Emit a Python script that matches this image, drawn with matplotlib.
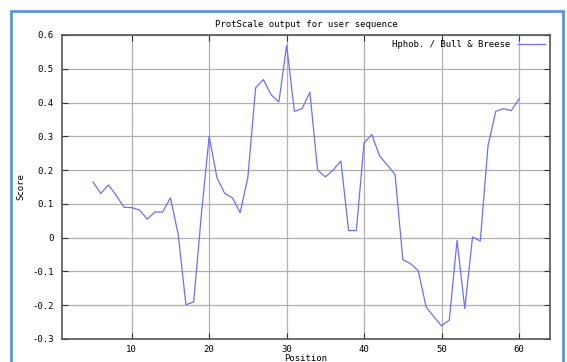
import numpy as np
import matplotlib.pyplot as plt
from matplotlib.patches import Rectangle

position = list(range(5, 61))
score = [0.165, 0.131, 0.156, 0.125, 0.090, 0.089, 0.082, 0.055, 0.076, 0.076,
         0.118, 0.010, -0.199, -0.190, 0.070, 0.300, 0.178, 0.131, 0.118, 0.074,
         0.180, 0.444, 0.468, 0.423, 0.402, 0.569, 0.374, 0.382, 0.431, 0.200,
         0.180, 0.200, 0.227, 0.021, 0.021, 0.281, 0.305, 0.242, 0.215, 0.187,
         -0.065, -0.077, -0.098, -0.205, -0.234, -0.261, -0.244, -0.008, -0.210, 0.002,
         -0.010, 0.273, 0.374, 0.382, 0.376, 0.411]

xticks = [10, 20, 30, 40, 50, 60]
yticks = np.round(np.arange(-0.3, 0.61, 0.1), 1)

mono = 'DejaVu Sans Mono'
fs = 6.5

fig = plt.figure(figsize=(5.67, 3.62), dpi=100)
fig.patches.append(Rectangle((11 / 567, -0.05), 552 / 567, 1.05 - 11 / 362,
                             transform=fig.transFigure, fill=False,
                             edgecolor='#5b95d8', linewidth=2))
ax = fig.add_axes([62 / 567, 23 / 362, 488 / 567, 304 / 362])

ax.plot(position, score, color='#6e6eff', linewidth=0.9, label='Hphob. / Bull & Breese')
ax.set_xlim(1, 64)
ax.set_ylim(-0.3, 0.6)
ax.set_xticks(xticks)
ax.set_yticks(yticks)
ax.set_yticklabels(['%g' % v for v in yticks], family=mono, fontsize=fs)
ax.set_xticklabels([str(v) for v in xticks], family=mono, fontsize=fs)
ax.tick_params(direction='in', top=True, right=True, length=4, color='#333333')
ax.tick_params(axis='y', pad=6)
ax.tick_params(axis='x', pad=4)
ax.grid(color='#b0b0b0', linewidth=0.9)
for s in ax.spines.values():
    s.set_color('#555555')
    s.set_linewidth(1.2)

ax.set_title('ProtScale output for user sequence', family=mono, fontsize=fs, pad=6)
ax.set_xlabel('Position', family=mono, fontsize=fs, labelpad=0)
ax.set_ylabel('Score', family=mono, fontsize=fs, labelpad=5)

leg = ax.legend(loc='upper right', prop={'family': mono, 'size': fs}, frameon=False,
                markerfirst=False, handlelength=3, borderaxespad=0.2)

fig.savefig('out.png', dpi=100)
